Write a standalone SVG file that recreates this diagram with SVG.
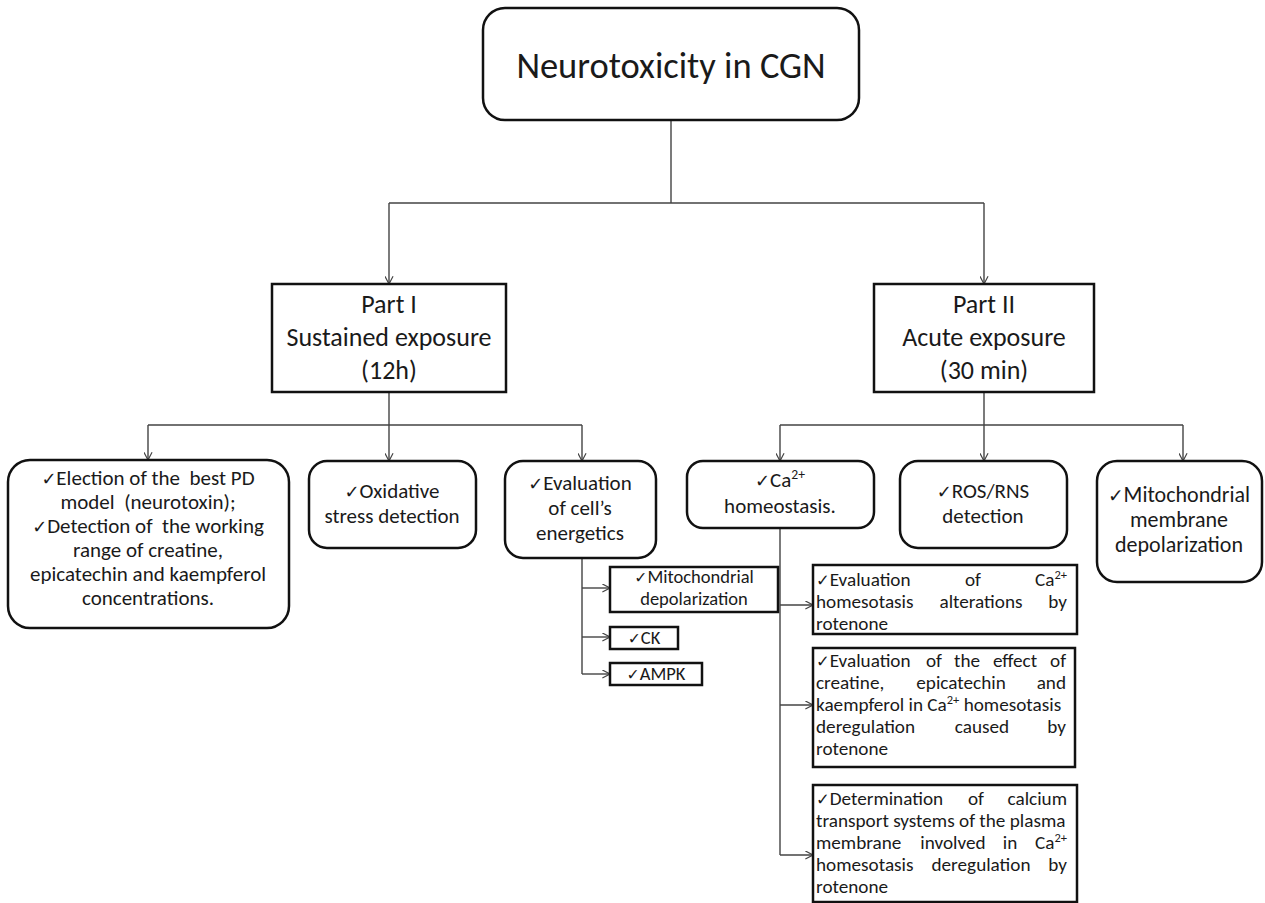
<svg xmlns="http://www.w3.org/2000/svg" width="1265" height="903" viewBox="0 0 1265 903">
<style>
text{font-family:Carlito,Lato,"Open Sans",sans-serif;fill:#1a1a1a}
.box{fill:#fff;stroke:#111;stroke-width:2.5}
.conn{fill:none;stroke:#444;stroke-width:1.4}
.t36{font-size:36.5px;text-anchor:middle}
.t26{font-size:26px;text-anchor:middle}
.t21{font-size:21px;text-anchor:middle}
.t23{font-size:22px;text-anchor:middle}
.ts{font-size:18.5px;text-anchor:middle}
.r{font-size:19.2px}
.e{text-anchor:end}
.m{text-anchor:middle}
.ck{font-family:"DejaVu Sans",sans-serif;font-size:0.85em}
.sup{font-size:0.65em}
</style>
<defs>
<marker id="arr" viewBox="0 0 10 10" refX="9.5" refY="5" markerWidth="9" markerHeight="9" markerUnits="userSpaceOnUse" orient="auto">
<path d="M1,0.5 L9.5,5 L1,9.5" fill="none" stroke="#444" stroke-width="1.3"/>
</marker>
</defs>
<rect width="1265" height="903" fill="#fff"/>
<g id="connectors">
<path class="conn" d="M671,120 V203 M389,203 H984 M389,392 V425 M148,425 H582 M984,392 V425 M780,425 H1183 M582,558 V674 M780,528 V855"/>
<path class="conn" marker-end="url(#arr)" d="M389,203 V284"/>
<path class="conn" marker-end="url(#arr)" d="M984,203 V284"/>
<path class="conn" marker-end="url(#arr)" d="M148,425 V460"/>
<path class="conn" marker-end="url(#arr)" d="M389,425 V461"/>
<path class="conn" marker-end="url(#arr)" d="M582,425 V461"/>
<path class="conn" marker-end="url(#arr)" d="M780,425 V461"/>
<path class="conn" marker-end="url(#arr)" d="M984,425 V461"/>
<path class="conn" marker-end="url(#arr)" d="M1183,425 V461"/>
<path class="conn" marker-end="url(#arr)" d="M582,588 H610"/>
<path class="conn" marker-end="url(#arr)" d="M582,637 H610"/>
<path class="conn" marker-end="url(#arr)" d="M582,674 H610"/>
<path class="conn" marker-end="url(#arr)" d="M780,605 H813"/>
<path class="conn" marker-end="url(#arr)" d="M780,705 H813"/>
<path class="conn" marker-end="url(#arr)" d="M780,855 H813"/>
</g>
<g id="root">
<rect class="box" x="483" y="8" width="376" height="112" rx="22"/>
<text class="t36" x="671" y="78">Neurotoxicity in CGN</text>
</g>
<g id="part1">
<rect class="box" x="272" y="284" width="234" height="108"/>
<text class="t26" x="389" y="313">Part I</text>
<text class="t26" x="389" y="346">Sustained exposure</text>
<text class="t26" x="389" y="379">(12h)</text>
</g>
<g id="part2">
<rect class="box" x="874" y="284" width="220" height="108"/>
<text class="t26" x="984" y="313">Part II</text>
<text class="t26" x="984" y="346">Acute exposure</text>
<text class="t26" x="984" y="379">(30 min)</text>
</g>
<g id="election">
<rect class="box" x="8" y="460" width="281" height="168" rx="22"/>
<text class="t21" x="148" y="485" xml:space="preserve"><tspan class="ck">✓</tspan>Election of the  best PD</text>
<text class="t21" x="148" y="509" xml:space="preserve">model  (neurotoxin);</text>
<text class="t21" x="148" y="533" xml:space="preserve"><tspan class="ck">✓</tspan>Detection of  the working</text>
<text class="t21" x="148" y="557">range of creatine,</text>
<text class="t21" x="148" y="581">epicatechin and kaempferol</text>
<text class="t21" x="148" y="605">concentrations.</text>
</g>
<g id="oxidative">
<rect class="box" x="309" y="461" width="167" height="87" rx="18"/>
<text class="t21" x="392" y="498"><tspan class="ck">✓</tspan>Oxidative</text>
<text class="t21" x="392" y="523">stress detection</text>
</g>
<g id="energetics">
<rect class="box" x="505" y="461" width="151" height="97" rx="18"/>
<text class="t21" x="580" y="490"><tspan class="ck">✓</tspan>Evaluation</text>
<text class="t21" x="580" y="515">of cell’s</text>
<text class="t21" x="580" y="540">energetics</text>
</g>
<g id="mito-depol">
<rect class="box" x="610" y="567" width="168" height="45"/>
<text class="ts" x="694" y="583"><tspan class="ck">✓</tspan>Mitochondrial</text>
<text class="ts" x="694" y="605">depolarization</text>
</g>
<g id="ck">
<rect class="box" x="610" y="627" width="68" height="22"/>
<text class="ts" x="644" y="644"><tspan class="ck">✓</tspan>CK</text>
</g>
<g id="ampk">
<rect class="box" x="610" y="663" width="92" height="22"/>
<text class="ts" x="656" y="680"><tspan class="ck">✓</tspan>AMPK</text>
</g>
<g id="calcium">
<rect class="box" x="687" y="461" width="187" height="67" rx="16"/>
<text class="t21" x="780" y="487"><tspan class="ck">✓</tspan>Ca<tspan class="sup" baseline-shift="super">2+</tspan></text>
<text class="t21" x="780" y="513">homeostasis.</text>
</g>
<g id="ros">
<rect class="box" x="900" y="461" width="167" height="87" rx="18"/>
<text class="t21" x="983" y="498"><tspan class="ck">✓</tspan>ROS/RNS</text>
<text class="t21" x="983" y="523">detection</text>
</g>
<g id="mito-membrane">
<rect class="box" x="1097" y="461" width="165" height="121" rx="20"/>
<text class="t23" x="1179" y="502"><tspan class="ck">✓</tspan>Mitochondrial</text>
<text class="t23" x="1179" y="527">membrane</text>
<text class="t23" x="1179" y="552">depolarization</text>
</g>
<g id="ca-eval">
<rect class="box" x="813" y="565" width="264" height="69"/>
<text class="r" x="816" y="586"><tspan class="ck">✓</tspan>Evaluation</text>
<text class="r m" x="973" y="586">of</text>
<text class="r e" x="1067" y="586">Ca<tspan class="sup" baseline-shift="super">2+</tspan></text>
<text class="r" x="816" y="608">homesotasis</text>
<text class="r m" x="981" y="608">alterations</text>
<text class="r e" x="1067" y="608">by</text>
<text class="r" x="816" y="630">rotenone</text>
</g>
<g id="ca-effect">
<rect class="box" x="813" y="648" width="262" height="119"/>
<text class="r" x="816" y="667"><tspan class="ck">✓</tspan>Evaluation</text>
<text class="r m" x="934" y="667">of</text>
<text class="r m" x="967" y="667">the</text>
<text class="r m" x="1015" y="667">effect</text>
<text class="r e" x="1066" y="667">of</text>
<text class="r" x="816" y="689">creatine,</text>
<text class="r m" x="961" y="689">epicatechin</text>
<text class="r e" x="1066" y="689">and</text>
<text class="r" x="816" y="711">kaempferol in Ca<tspan class="sup" baseline-shift="super">2+</tspan> homesotasis</text>
<text class="r" x="816" y="733">deregulation</text>
<text class="r m" x="982" y="733">caused</text>
<text class="r e" x="1066" y="733">by</text>
<text class="r" x="816" y="755">rotenone</text>
</g>
<g id="ca-transport">
<rect class="box" x="813" y="785" width="264" height="117"/>
<text class="r" x="816" y="805"><tspan class="ck">✓</tspan>Determination</text>
<text class="r m" x="976" y="805">of</text>
<text class="r e" x="1067" y="805">calcium</text>
<text class="r" x="816" y="827">transport systems of the plasma</text>
<text class="r" x="816" y="849">membrane</text>
<text class="r m" x="953" y="849">involved</text>
<text class="r m" x="1010" y="849">in</text>
<text class="r e" x="1067" y="849">Ca<tspan class="sup" baseline-shift="super">2+</tspan></text>
<text class="r" x="816" y="871">homesotasis</text>
<text class="r m" x="981" y="871">deregulation</text>
<text class="r e" x="1067" y="871">by</text>
<text class="r" x="816" y="893">rotenone</text>
</g>
</svg>
